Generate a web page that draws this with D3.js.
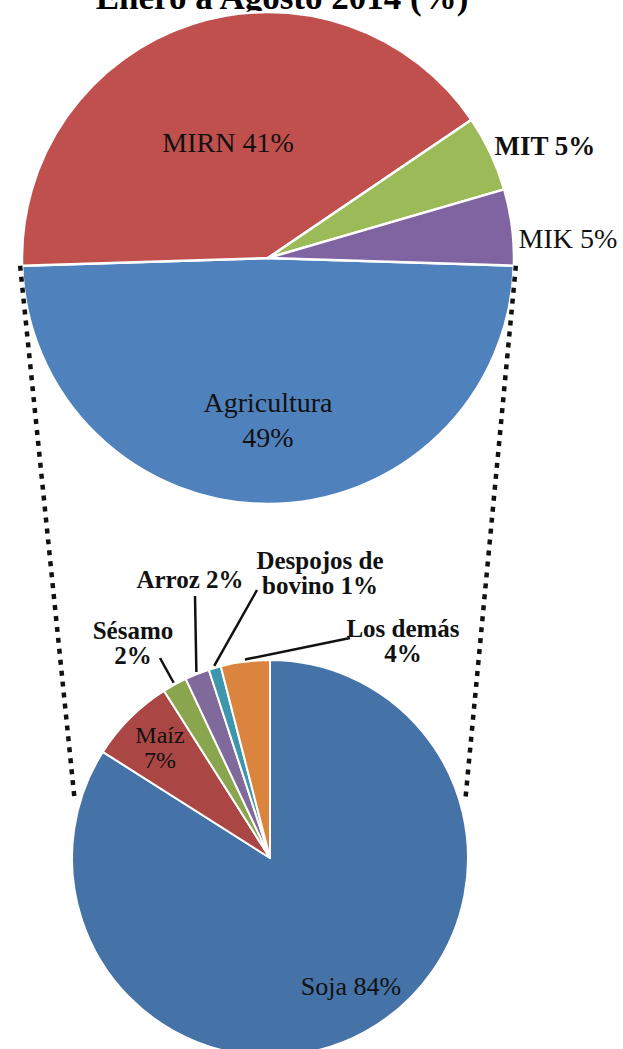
<!DOCTYPE html>
<html><head><meta charset="utf-8">
<script src="https://cdn.jsdelivr.net/npm/d3@7"></script>
<style>html,body{margin:0;padding:0;background:#fff;overflow:hidden}</style>
</head><body>
<svg id="c" width="623" height="1049"></svg>
<script>
// ---- data ----
const title = "Enero a Agosto 2014 (%)";
const mainCategories = ["Agricultura", "MIRN", "MIT", "MIK"];
const mainValues = [49, 41, 5, 5];
const subCategories = ["Soja", "Maíz", "Sésamo", "Arroz", "Despojos de bovino", "Los demás"];
const subValues = [84, 7, 2, 2, 1, 4];
const mainColors = ["#4F81BD", "#C0504D", "#9BBB59", "#8064A2"];
const subColors = ["#4572A7", "#AA4643", "#89A54E", "#80699B", "#3D96AE", "#DB843D"];

// ---- layout ----
const svg = d3.select("#c");
const serif = "'Liberation Serif','Times New Roman',serif";
const mainGeo = {cx: 268, cy: 258, r: 246};
const subGeo = {cx: 270, cy: 858, r: 198};

const mainTotal = d3.sum(mainValues);
const mStart = Math.PI - (mainValues[0] / mainTotal) * Math.PI;
const mainPie = d3.pie().sort(null).value(d => d).startAngle(mStart).endAngle(mStart + 2 * Math.PI);
const subPie = d3.pie().sort(null).value(d => d).startAngle(0).endAngle(2 * Math.PI);
const mainArcs = mainPie(mainValues);
const subArcs = subPie(subValues);

const pt = (c, a, r) => [c.cx + r * Math.sin(a), c.cy - r * Math.cos(a)];

// title
svg.append("text").attr("x", 282).attr("y", 9).attr("text-anchor", "middle")
  .attr("font-family", serif).attr("font-weight", "bold").attr("font-size", 35)
  .attr("fill", "#000").text(title);

// main pie
const gMain = svg.append("g").attr("transform", `translate(${mainGeo.cx},${mainGeo.cy})`);
gMain.selectAll("path").data(mainArcs).join("path")
  .attr("d", d3.arc().innerRadius(0).outerRadius(mainGeo.r))
  .attr("fill", (d, i) => mainColors[i])
  .attr("stroke", "#fff").attr("stroke-width", 2.5).attr("stroke-linejoin", "round");

// sub pie
const gSub = svg.append("g").attr("transform", `translate(${subGeo.cx},${subGeo.cy})`);
gSub.selectAll("path").data(subArcs).join("path")
  .attr("d", d3.arc().innerRadius(0).outerRadius(subGeo.r))
  .attr("fill", (d, i) => subColors[i])
  .attr("stroke", "#fff").attr("stroke-width", 2).attr("stroke-linejoin", "round");

// connector lines (dotted)
const ag = mainArcs[0];
const connAngle = 74 * Math.PI / 180;
const conns = [
  [pt(mainGeo, ag.endAngle, mainGeo.r + 2), pt(subGeo, -connAngle, subGeo.r + 5)],
  [pt(mainGeo, ag.startAngle, mainGeo.r + 2), pt(subGeo, connAngle, subGeo.r + 5)]
];
svg.selectAll("line.conn").data(conns).join("line").attr("class", "conn")
  .attr("x1", d => d[0][0]).attr("y1", d => d[0][1])
  .attr("x2", d => d[1][0]).attr("y2", d => d[1][1])
  .attr("stroke", "#111").attr("stroke-width", 4.5).attr("stroke-dasharray", "5,6");

// leader lines for small slices
const leaders = [
  {i: 2, from: [160, 658]},
  {i: 3, from: [195, 596]},
  {i: 4, from: [257, 590]},
  {i: 5, from: [350, 638]}
];
leaders.forEach(l => {
  const a = subArcs[l.i];
  const m = (a.startAngle + a.endAngle) / 2;
  const p = pt(subGeo, m, subGeo.r + 2);
  svg.append("line").attr("x1", l.from[0]).attr("y1", l.from[1])
    .attr("x2", p[0]).attr("y2", p[1])
    .attr("stroke", "#111").attr("stroke-width", 2.5);
});

// labels
function label(lines, x, y, size, bold, lh) {
  const t = svg.append("text").attr("text-anchor", "middle")
    .attr("font-family", serif).attr("font-size", size)
    .attr("font-weight", bold ? "bold" : "normal").attr("fill", "#111");
  lines.forEach((s, k) => t.append("tspan").attr("x", x).attr("y", y + k * lh).text(s));
}
label([`${mainCategories[1]} ${mainValues[1]}%`], 228, 152, 28, false, 0);
label([`${mainCategories[2]} ${mainValues[2]}%`], 545, 155, 27, true, 0);
label([`${mainCategories[3]} ${mainValues[3]}%`], 568, 248, 28, false, 0);
label([mainCategories[0], `${mainValues[0]}%`], 268, 412, 28, false, 35);

label(["Despojos de", `bovino ${subValues[4]}%`], 320, 569, 25, true, 25);
label([`${subCategories[3]} ${subValues[3]}%`], 190, 588, 25, true, 0);
label([subCategories[2], `${subValues[2]}%`], 133, 639, 25, true, 25);
label([subCategories[5], `${subValues[5]}%`], 403, 637, 25, true, 25);
label([subCategories[1], `${subValues[1]}%`], 160, 743, 24, false, 25);
label([`${subCategories[0]} ${subValues[0]}%`], 351, 995, 26, false, 0);
</script>
</body></html>
